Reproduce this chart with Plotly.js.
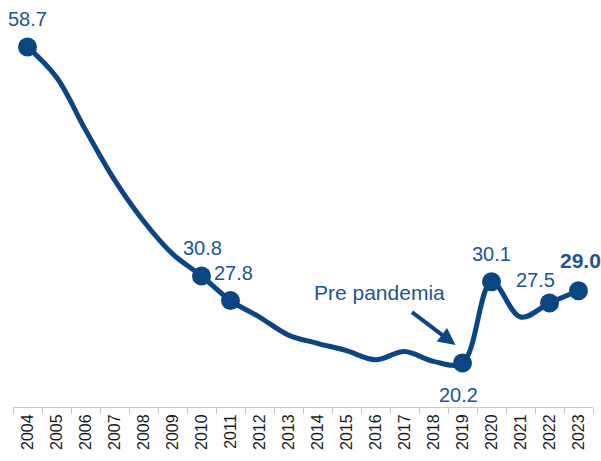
<!DOCTYPE html>
<html>
<head>
<meta charset="utf-8">
<script src="https://cdn.plot.ly/plotly-3.0.1.min.js"></script>
<style>html,body{margin:0;padding:0;background:#fff;}#chart{width:601px;height:461px;}</style>
</head>
<body>
<div id="chart"></div>
<script>
// ---- data ----
var years = ['2004','2005','2006','2007','2008','2009','2010','2011','2012','2013','2014','2015','2016','2017','2018','2019','2020','2021','2022','2023'];
var values = [58.7, 55.0, 48.6, 42.5, 37.5, 33.5, 30.8, 27.8, 25.8, 23.6, 22.6, 21.7, 20.6, 21.6, 20.4, 20.2, 30.1, 25.8, 27.5, 29.0];
var labelYears = ['2004','2010','2011','2019','2020','2022','2023'];
var labelValues = [58.7, 30.8, 27.8, 20.2, 30.1, 27.5, 29.0];
var noteText = 'Pre pandemia';
var noteYear = '2019';
var noteValue = 20.2;

// ---- styling ----
var lineColor = '#0b4682';
var textColor = '#1d5593';
var fontFam = 'Liberation Sans, Arial, sans-serif';
var labelOffsets = {
  '2004': [0, 28], '2010': [1, 28], '2011': [3, 28], '2019': [-4, -32],
  '2020': [0, 28], '2022': [-14, 23], '2023': [2, 30]
};

var traces = [
  {x: years, y: values, type: 'scatter', mode: 'lines',
   line: {color: lineColor, width: 5, shape: 'spline', smoothing: 1},
   hoverinfo: 'skip', showlegend: false},
  {x: labelYears, y: labelValues, type: 'scatter', mode: 'markers',
   marker: {color: lineColor, size: 19},
   hoverinfo: 'skip', showlegend: false}
];

var annotations = [];
for (var i = 0; i < labelYears.length; i++) {
  var last = (i === labelYears.length - 1);
  var off = labelOffsets[labelYears[i]];
  var txt = labelValues[i].toFixed(1);
  annotations.push({x: years.indexOf(labelYears[i]), y: labelValues[i], xref: 'x', yref: 'y',
    text: last ? '<b>' + txt + '</b>' : txt,
    showarrow: false, xshift: off[0], yshift: off[1],
    font: {family: fontFam, size: last ? 21 : 20, color: textColor}});
}
var ni = years.indexOf(noteYear);
annotations.push({x: ni, y: noteValue, xref: 'x', yref: 'y', text: '',
  showarrow: true, arrowhead: 2, arrowsize: 0.85, arrowwidth: 4, arrowcolor: lineColor,
  xshift: -7, yshift: 18, ax: -45, ay: -34});
annotations.push({x: ni, y: noteValue, xref: 'x', yref: 'y', text: noteText,
  showarrow: false, xshift: -83, yshift: 71,
  font: {family: fontFam, size: 21, color: textColor}});

var layout = {
  width: 601, height: 461,
  margin: {l: 13, r: 8, t: 10, b: 54},
  paper_bgcolor: '#fff', plot_bgcolor: '#fff',
  xaxis: {type: 'category', range: [-0.5, 19.5], showgrid: false, zeroline: false,
    showline: true, linecolor: '#c8c8c8', linewidth: 1,
    ticks: 'outside', tickson: 'boundaries', ticklen: 6, tickcolor: '#c8c8c8',
    tickangle: -90, tickfont: {family: fontFam, size: 16, color: '#1a1a1a'}},
  yaxis: {range: [14.84, 63.2], showgrid: false, zeroline: false, showline: false,
    showticklabels: false, ticks: ''},
  annotations: annotations
};

Plotly.newPlot('chart', traces, layout, {displayModeBar: false});
</script>
</body>
</html>
